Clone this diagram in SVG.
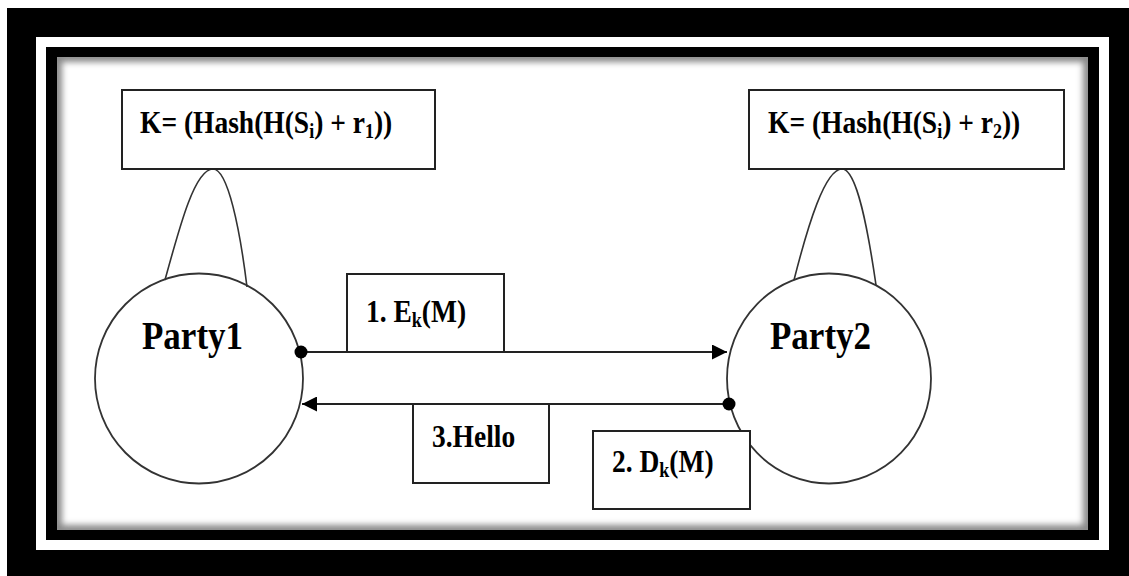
<svg xmlns="http://www.w3.org/2000/svg" width="1129" height="576" viewBox="0 0 1129 576">
  <style>
    .box { fill: #ffffff; stroke: #222222; stroke-width: 2; }
    .party { fill: none; stroke: #333333; stroke-width: 1.8; }
    .conn { fill: none; stroke: #222222; stroke-width: 2; }
    .arch { fill: none; stroke: #333333; stroke-width: 1.6; }
    .dot { fill: #000000; }
    .t { font-family: "Liberation Serif", "Times New Roman", serif; font-weight: bold; fill: #000000; }
    .lbl { font-size: 27.5px; }
    .big { font-size: 35px; }
    .sub { font-size: 18px; }
  </style>
  <defs>
    <clipPath id="innerClip">
      <rect x="57" y="57" width="1031" height="473"/>
    </clipPath>
    <filter id="blur" x="-5%" y="-5%" width="110%" height="110%">
      <feGaussianBlur stdDeviation="3"/>
    </filter>
    <marker id="arrow" viewBox="0 0 15 15" refX="15" refY="7.5" markerWidth="15" markerHeight="15" markerUnits="userSpaceOnUse" orient="auto">
      <path d="M0,0 L15,7.5 L0,15 Z" fill="#000000"/>
    </marker>
  </defs>

  <!-- frame -->
  <g id="frame">
    <rect x="0" y="0" width="1129" height="576" fill="#ffffff"/>
    <rect x="7" y="8" width="1122" height="568" fill="#000000"/>
    <rect x="36" y="37" width="1073" height="513" fill="#ffffff"/>
    <rect x="46" y="47" width="1053" height="493" fill="#000000"/>
    <rect x="57" y="57" width="1031" height="473" fill="#ffffff"/>
    <g clip-path="url(#innerClip)">
      <rect x="57" y="57" width="1031" height="473" fill="none" stroke="#888888" stroke-width="10" filter="url(#blur)"/>
    </g>
  </g>

  <!-- party nodes -->
  <g id="party1">
    <ellipse class="party" cx="199" cy="378.5" rx="104" ry="105"/>
    <text class="t big" font-family="Liberation Serif, serif" transform="translate(142,349) scale(1,1.13)">Party1</text>
  </g>
  <g id="party2">
    <ellipse class="party" cx="829" cy="378.5" rx="102" ry="105"/>
    <text class="t big" font-family="Liberation Serif, serif" transform="translate(770,349) scale(1,1.13)">Party2</text>
  </g>

  <!-- connectors -->
  <g id="connectors">
    <path class="arch" d="M165,280 C180,225 195,169 213,169 C228,169 240,230 247,287"/>
    <path class="arch" d="M794,280 C808,225 825,169 842,169 C857,169 868,230 876,285"/>
    <line class="conn" x1="302" y1="352" x2="727" y2="352" marker-end="url(#arrow)"/>
    <line class="conn" x1="728" y1="404" x2="302" y2="404" marker-end="url(#arrow)"/>
    <circle class="dot" cx="301" cy="352" r="6.5"/>
    <circle class="dot" cx="729" cy="404" r="6.5"/>
  </g>

  <!-- key boxes -->
  <g id="key1">
    <rect class="box" x="122" y="90" width="313" height="79"/>
    <text class="t lbl" font-family="Liberation Serif, serif" transform="translate(140,133) scale(1,1.14)">K= (Hash(H(S<tspan class="sub" dy="4">i</tspan><tspan dy="-4">) + r</tspan><tspan class="sub" dy="4">1</tspan><tspan dy="-4">))</tspan></text>
  </g>
  <g id="key2">
    <rect class="box" x="749" y="90" width="315" height="79"/>
    <text class="t lbl" font-family="Liberation Serif, serif" transform="translate(768,133) scale(1,1.14)">K= (Hash(H(S<tspan class="sub" dy="4">i</tspan><tspan dy="-4">) + r</tspan><tspan class="sub" dy="4">2</tspan><tspan dy="-4">))</tspan></text>
  </g>

  <!-- message boxes -->
  <g id="msg1">
    <rect class="box" x="347" y="274" width="157" height="78"/>
    <text class="t lbl" font-family="Liberation Serif, serif" transform="translate(366,322) scale(1,1.14)">1. E<tspan class="sub" dy="4">k</tspan><tspan dy="-4">(M)</tspan></text>
  </g>
  <g id="msg3">
    <rect class="box" x="413" y="404" width="136" height="79"/>
    <text class="t lbl" font-family="Liberation Serif, serif" transform="translate(432,447) scale(1,1.14)">3.Hello</text>
  </g>
  <g id="msg2">
    <rect class="box" x="593" y="431" width="157" height="78"/>
    <text class="t lbl" font-family="Liberation Serif, serif" transform="translate(612,472) scale(1,1.14)">2. D<tspan class="sub" dy="4">k</tspan><tspan dy="-4">(M)</tspan></text>
  </g>
</svg>
